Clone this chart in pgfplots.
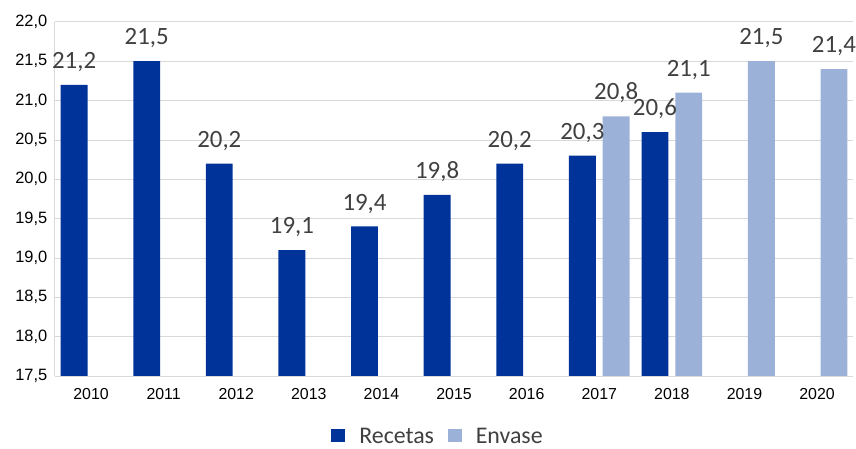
\documentclass[border=0pt]{standalone}
\usepackage{pgfplots}
\pgfplotsset{compat=1.18}
\usepackage{fontspec}
\setmainfont{Carlito}
\newfontfamily\arialf{Liberation Sans}
\definecolor{recetas}{HTML}{003399}
\definecolor{envase}{HTML}{9BB1D7}
\definecolor{gridc}{HTML}{D9D9D9}
\definecolor{txt}{HTML}{404040}
\begin{document}
\begin{tikzpicture}
\begin{axis}[
    scale only axis,
    width=803pt, height=356pt,
    ybar=7pt, bar width=27pt,
    xmin=-0.5, xmax=10.5,
    ymin=17.5, ymax=22,
    xtick={0,...,10},
    xticklabels={2010,2011,2012,2013,2014,2015,2016,2017,2018,2019,2020},
    ytick={17.5,18,...,22},
    ymajorgrids, grid style={gridc, line width=0.8pt},
    axis lines*=left,
    axis line style={gridc, line width=0.8pt},
    major tick length=0pt,
    clip=false,
    /pgf/number format/assume math mode=true,
    yticklabel style={font=\arialf\fontsize{16.5}{18}\selectfont, text=black, xshift=-4pt,
        /pgf/number format/.cd, use comma, fixed, fixed zerofill, precision=1},
    xticklabel style={font=\arialf\fontsize{16}{18}\selectfont, text=black, yshift=-9pt},
    nodes near coords,
    every node near coord/.append style={font=\fontsize{25}{28}\selectfont, text=txt,
        anchor=south, inner sep=0pt, yshift=13pt,
        /pgf/number format/.cd, use comma, fixed, fixed zerofill, precision=1},
    legend style={draw=none, fill=none, at={(0.48,-0.135)}, anchor=north,
        font=\fontsize{24}{26}\selectfont, text=txt, column sep=12pt},
    legend columns=2,
    legend image code/.code={\fill[#1] (0pt,-6pt) rectangle (14pt,7pt);},
]
\addplot[fill=recetas, draw=none] coordinates {
    (0,21.2) (1,21.5) (2,20.2) (3,19.1) (4,19.4) (5,19.8) (6,20.2) (7,20.3) (8,20.6)
};
\addlegendentry{Recetas}
\addplot[fill=envase, draw=none] coordinates {
    (7,20.8) (8,21.1) (9,21.5) (10,21.4)
};
\addlegendentry{Envase}
\path (rel axis cs:0,1) ++(-55pt,22pt) coordinate (tl);
\path (rel axis cs:1,0) ++(0pt,-68pt) coordinate (br);
\path (tl) rectangle (br);
\end{axis}
\end{tikzpicture}
\end{document}
